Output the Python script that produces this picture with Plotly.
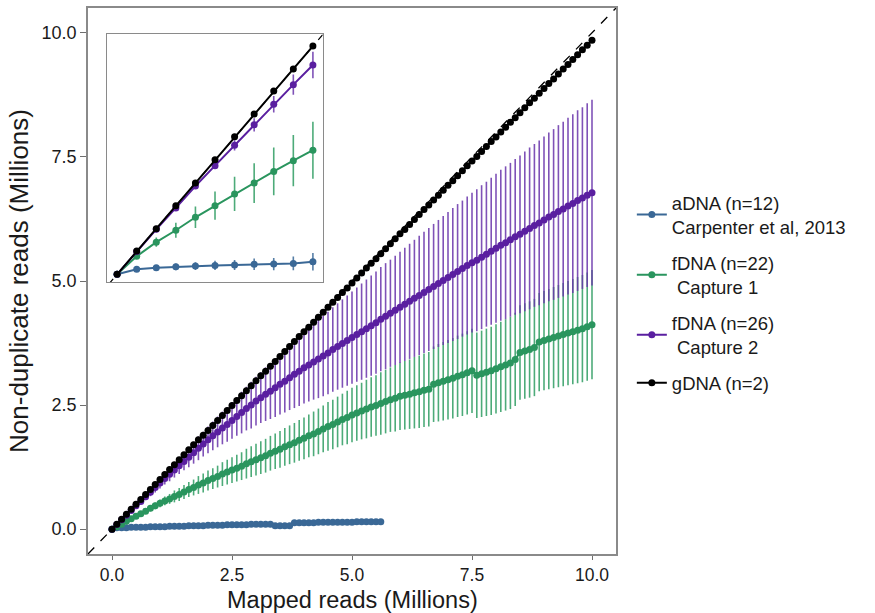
import plotly.graph_objects as go

# ---------------- data (main panel) ----------------
mapped = [round(i * 0.1, 1) for i in range(101)]          # Mapped reads (Millions)

gdna = [0.00, 0.10, 0.20, 0.30, 0.40, 0.50, 0.60, 0.70, 0.80, 0.90,
        1.00, 1.10, 1.20, 1.30, 1.40, 1.50, 1.60, 1.70, 1.80, 1.89,
        1.99, 2.09, 2.19, 2.29, 2.39, 2.49, 2.59, 2.69, 2.79, 2.89,
        2.99, 3.09, 3.18, 3.28, 3.38, 3.48, 3.58, 3.68, 3.78, 3.88,
        3.98, 4.07, 4.17, 4.27, 4.37, 4.47, 4.57, 4.67, 4.77, 4.86,
        4.96, 5.06, 5.16, 5.26, 5.36, 5.45, 5.55, 5.65, 5.75, 5.85,
        5.95, 6.04, 6.14, 6.24, 6.34, 6.44, 6.53, 6.63, 6.73, 6.83,
        6.93, 7.02, 7.12, 7.22, 7.32, 7.42, 7.51, 7.61, 7.71, 7.81,
        7.90, 8.00, 8.10, 8.20, 8.29, 8.39, 8.49, 8.59, 8.68, 8.78,
        8.88, 8.98, 9.07, 9.17, 9.27, 9.36, 9.46, 9.56, 9.66, 9.75,
        9.85]

fdna2 = [0.00, 0.095, 0.19, 0.28, 0.375, 0.47, 0.56, 0.655, 0.745, 0.84,
         0.93, 1.02, 1.105, 1.19, 1.28, 1.365, 1.45, 1.54, 1.63, 1.715,
         1.80, 1.88, 1.96, 2.04, 2.11, 2.19, 2.27, 2.35, 2.43, 2.50,
         2.58, 2.65, 2.72, 2.78, 2.85, 2.92, 2.98, 3.05, 3.12, 3.18,
         3.25, 3.31, 3.37, 3.43, 3.49, 3.55, 3.62, 3.68, 3.74, 3.80,
         3.86, 3.92, 3.98, 4.04, 4.10, 4.16, 4.23, 4.29, 4.35, 4.41,
         4.47, 4.53, 4.59, 4.65, 4.71, 4.77, 4.83, 4.89, 4.95, 5.01,
         5.07, 5.13, 5.19, 5.25, 5.31, 5.37, 5.42, 5.48, 5.54, 5.60,
         5.66, 5.72, 5.77, 5.83, 5.89, 5.94, 6.00, 6.06, 6.12, 6.17,
         6.23, 6.29, 6.34, 6.40, 6.45, 6.51, 6.56, 6.62, 6.67, 6.73,
         6.78]

fdna2_err = [0.00, 0.01, 0.02, 0.03, 0.04, 0.05, 0.06, 0.07, 0.08, 0.10,
             0.11, 0.12, 0.14, 0.15, 0.17, 0.18, 0.20, 0.22, 0.24, 0.25,
             0.27, 0.29, 0.31, 0.33, 0.35, 0.37, 0.39, 0.42, 0.44, 0.47,
             0.49, 0.51, 0.54, 0.56, 0.59, 0.61, 0.63, 0.65, 0.68, 0.70,
             0.72, 0.74, 0.76, 0.79, 0.81, 0.83, 0.85, 0.87, 0.89, 0.91,
             0.93, 0.95, 0.97, 0.99, 1.01, 1.03, 1.05, 1.07, 1.08, 1.10,
             1.12, 1.14, 1.16, 1.18, 1.20, 1.22, 1.24, 1.26, 1.28, 1.30,
             1.32, 1.34, 1.36, 1.37, 1.39, 1.41, 1.43, 1.45, 1.46, 1.48,
             1.50, 1.52, 1.54, 1.55, 1.57, 1.59, 1.61, 1.63, 1.64, 1.66,
             1.68, 1.70, 1.72, 1.74, 1.76, 1.78, 1.80, 1.82, 1.83, 1.85,
             1.87]

fdna1 = [0.00, 0.05, 0.10, 0.16, 0.21, 0.26, 0.31, 0.36, 0.42, 0.47,
         0.52, 0.57, 0.61, 0.66, 0.70, 0.75, 0.80, 0.84, 0.89, 0.93,
         0.98, 1.02, 1.06, 1.11, 1.15, 1.19, 1.23, 1.27, 1.32, 1.36,
         1.40, 1.44, 1.48, 1.53, 1.57, 1.61, 1.66, 1.70, 1.74, 1.79,
         1.83, 1.88, 1.92, 1.97, 2.02, 2.07, 2.11, 2.16, 2.21, 2.25,
         2.30, 2.34, 2.38, 2.42, 2.46, 2.49, 2.53, 2.57, 2.61, 2.64,
         2.68, 2.70, 2.72, 2.75, 2.77, 2.80, 2.82, 2.92, 2.95, 2.98,
         3.01, 3.04, 3.08, 3.11, 3.15, 3.19, 3.10, 3.13, 3.16, 3.19,
         3.23, 3.27, 3.31, 3.35, 3.42, 3.56, 3.59, 3.62, 3.66, 3.77,
         3.80, 3.83, 3.86, 3.89, 3.92, 3.95, 3.98, 4.01, 4.04, 4.08,
         4.12]

fdna1_err = [0.00, 0.01, 0.01, 0.02, 0.03, 0.04, 0.04, 0.05, 0.06, 0.07,
             0.08, 0.09, 0.10, 0.12, 0.13, 0.14, 0.15, 0.16, 0.18, 0.19,
             0.20, 0.21, 0.22, 0.24, 0.25, 0.26, 0.27, 0.28, 0.30, 0.31,
             0.32, 0.33, 0.34, 0.35, 0.36, 0.37, 0.38, 0.39, 0.40, 0.41,
             0.42, 0.43, 0.45, 0.46, 0.47, 0.49, 0.50, 0.51, 0.52, 0.54,
             0.55, 0.56, 0.57, 0.59, 0.60, 0.61, 0.63, 0.64, 0.65, 0.67,
             0.68, 0.69, 0.70, 0.72, 0.73, 0.74, 0.75, 0.76, 0.78, 0.79,
             0.80, 0.81, 0.82, 0.83, 0.84, 0.85, 0.86, 0.87, 0.88, 0.89,
             0.90, 0.91, 0.92, 0.93, 0.94, 0.95, 0.96, 0.97, 0.98, 0.99,
             1.00, 1.01, 1.02, 1.03, 1.04, 1.05, 1.06, 1.07, 1.08, 1.09,
             1.10]

adna = [0.00, 0.03, 0.03, 0.03, 0.04, 0.04, 0.04, 0.04, 0.05, 0.05,
        0.05, 0.05, 0.06, 0.06, 0.06, 0.06, 0.07, 0.07, 0.07, 0.07,
        0.08, 0.08, 0.08, 0.08, 0.09, 0.09, 0.09, 0.09, 0.09, 0.10,
        0.10, 0.10, 0.10, 0.10, 0.07, 0.07, 0.07, 0.07, 0.13, 0.13,
        0.13, 0.13, 0.13, 0.14, 0.14, 0.14, 0.14, 0.14, 0.14, 0.14,
        0.14, 0.15, 0.15, 0.15, 0.15, 0.15, 0.15]
adna_x = mapped[:len(adna)]

# ---------------- data (inset) ----------------
inset_x = [0, 1, 2, 3, 4, 5, 6, 7, 8, 9, 10]
in_gdna = [0, 1.02, 2.0, 3.0, 4.0, 5.02, 6.03, 7.02, 8.03, 9.0, 10.0]
in_fdna2 = [0, 1.0, 1.97, 2.91, 3.87, 4.76, 5.65, 6.55, 7.45, 8.31, 9.17]
in_fdna2_err = [0, 0.02, 0.04, 0.08, 0.12, 0.15, 0.22, 0.29, 0.36, 0.44, 0.58]
in_fdna1 = [0, 0.79, 1.41, 1.93, 2.50, 3.01, 3.52, 4.0, 4.51, 4.98, 5.44]
in_fdna1_err = [0, 0.05, 0.2, 0.33, 0.47, 0.62, 0.75, 0.87, 1.05, 1.12, 1.25]
in_adna = [0, 0.22, 0.29, 0.33, 0.36, 0.39, 0.41, 0.44, 0.45, 0.48, 0.55]
in_adna_err = [0, 0.05, 0.1, 0.15, 0.17, 0.2, 0.22, 0.25, 0.27, 0.3, 0.38]

names = ["aDNA (n=12)<br>Carpenter et al, 2013", "fDNA (n=22)<br> Capture 1",
         "fDNA (n=26)<br> Capture 2", "gDNA (n=2)"]
tick_vals = [0, 2.5, 5, 7.5, 10]
tick_text = ["0.0", "2.5", "5.0", "7.5", "10.0"]
x_title = "Mapped reads (Millions)"
y_title = "Non-duplicate reads (Millions)"

colors = ["#3A6896", "#2A955E", "#5A1FA0", "#000000"]
err_colors = ["rgba(58,104,150,0.85)", "rgba(46,156,98,0.85)",
              "rgba(104,52,170,0.85)", "rgba(0,0,0,0.85)"]

FONT = "Liberation Sans, Arial, Helvetica, sans-serif"

fig = go.Figure()

# y = x reference (main)
fig.add_shape(type="line", xref="x", yref="y", x0=-0.5, y0=-0.5, x1=10.5, y1=10.5,
              line=dict(color="black", width=1.3, dash="dash"), layer="below")

main = [
    (adna_x, adna, None),
    (mapped, fdna1, fdna1_err),
    (mapped, fdna2, fdna2_err),
    (mapped, gdna, None),
]
for i, (xs, ys, es) in enumerate(main):
    tr = dict(x=xs, y=ys, mode="lines+markers", name=names[i],
              line=dict(color=colors[i], width=2),
              marker=dict(color=colors[i], size=7),
              xaxis="x", yaxis="y", legendrank=i + 1, legendgroup="g%d" % i)
    if es is not None:
        tr["error_y"] = dict(type="data", array=es, visible=True, width=0,
                             thickness=1.6, color=err_colors[i])
    fig.add_trace(go.Scatter(**tr))

# inset
fig.add_trace(go.Scatter(x=[-0.5, 10.5], y=[-0.5, 10.5], mode="lines",
                         line=dict(color="black", width=1.2, dash="dash"),
                         xaxis="x2", yaxis="y2", showlegend=False, hoverinfo="skip"))
inset = [
    (in_adna, in_adna_err),
    (in_fdna1, in_fdna1_err),
    (in_fdna2, in_fdna2_err),
    (in_gdna, None),
]
for i, (ys, es) in enumerate(inset):
    tr = dict(x=inset_x, y=ys, mode="lines+markers", showlegend=False,
              line=dict(color=colors[i], width=2),
              marker=dict(color=colors[i], size=7),
              xaxis="x2", yaxis="y2")
    if es is not None:
        tr["error_y"] = dict(type="data", array=es, visible=True, width=0,
                             thickness=1.6, color=err_colors[i])
    fig.add_trace(go.Scatter(**tr))

axis_common = dict(showgrid=False, zeroline=False, showline=True, mirror=True,
                   linecolor="#8a8a8a", linewidth=1.5, ticks="outside",
                   tickwidth=1.2, tickcolor="#6e6e6e")

fig.update_layout(
    width=875, height=613,
    margin=dict(l=88, r=259, t=6, b=59),
    paper_bgcolor="white", plot_bgcolor="white",
    font=dict(family=FONT, color="#1a1a1a"),
    xaxis=dict(range=[-0.5, 10.5], tickvals=tick_vals, ticktext=tick_text,
               ticklen=4, tickfont=dict(family=FONT, size=17.5, color="#1a1a1a"),
               domain=[0, 1], **axis_common),
    yaxis=dict(range=[-0.5, 10.5], tickvals=tick_vals, ticktext=tick_text,
               ticklen=6, tickfont=dict(family=FONT, size=18, color="#1a1a1a"),
               title=dict(text=y_title, standoff=6,
                          font=dict(family=FONT, size=26, color="#1a1a1a")),
               domain=[0, 1], **axis_common),
    xaxis2=dict(range=[-0.5, 10.5], domain=[0.0366, 0.4445], anchor="y2",
                showgrid=False, zeroline=False, showticklabels=False, ticks="",
                showline=True, mirror=True, linecolor="#8a8a8a", linewidth=1.3),
    yaxis2=dict(range=[-0.34, 10.52], domain=[0.498, 0.952], anchor="x2",
                showgrid=False, zeroline=False, showticklabels=False, ticks="",
                showline=True, mirror=True, linecolor="#8a8a8a", linewidth=1.3),
    legend=dict(x=1.03, xanchor="left", y=0.478, yanchor="middle",
                font=dict(family=FONT, size=18.5, color="#1a1a1a"),
                tracegroupgap=9, itemwidth=30, bgcolor="rgba(0,0,0,0)"),
    showlegend=True,
    annotations=[dict(text=x_title, xref="paper", yref="paper", x=0.5, y=-0.1115,
                      xanchor="center", yanchor="bottom", showarrow=False,
                      font=dict(family=FONT, size=23.5, color="#1a1a1a"))],
)

fig.write_html("out.html")
